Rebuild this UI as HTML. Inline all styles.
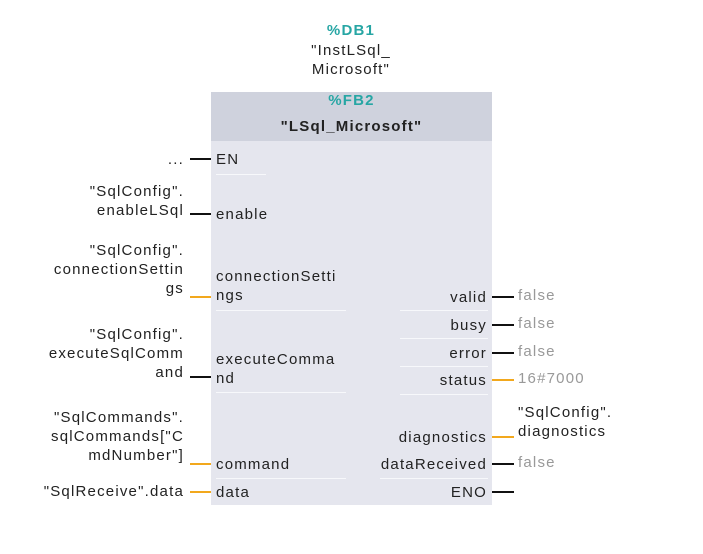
<!DOCTYPE html>
<html><head><meta charset="utf-8"><style>
body{margin:0;width:703px;height:554px;background:#fff;position:relative;overflow:hidden;font-family:"Liberation Sans","DejaVu Sans",sans-serif;font-size:15px;letter-spacing:1.2px;color:#222}
.a{position:absolute;line-height:19px;white-space:nowrap}
.r{text-align:right}
.ln{position:absolute;height:2px;background:#111}
.o{background:#f2a81d}
.g{color:#999}
.t{color:#27a6a4;font-weight:bold}
.sep{position:absolute;height:1px;background:#f7f8fb}
</style></head><body>
<div class="a t" style="left:290px;top:21px;width:122px;text-align:center">%DB1</div>
<div class="a" style="left:280px;top:41px;width:142px;text-align:center">"InstLSql_<br>Microsoft"</div>
<div style="position:absolute;left:211px;top:92px;width:281px;height:413px;background:#e5e6ee"></div>
<div style="position:absolute;left:211px;top:92px;width:281px;height:49px;background:#cfd2dd"></div>
<div class="a t" style="left:211px;top:91px;width:281px;text-align:center">%FB2</div>
<div class="a" style="left:211px;top:117px;width:281px;text-align:center;font-weight:bold">"LSql_Microsoft"</div>

<div class="sep" style="left:216px;width:50px;top:174px"></div>
<div class="sep" style="left:216px;width:130px;top:310px"></div>
<div class="sep" style="left:216px;width:130px;top:392px"></div>
<div class="sep" style="left:216px;width:130px;top:478px"></div>
<div class="sep" style="left:400px;width:88px;top:310px"></div>
<div class="sep" style="left:400px;width:88px;top:338px"></div>
<div class="sep" style="left:400px;width:88px;top:366px"></div>
<div class="sep" style="left:400px;width:88px;top:394px"></div>
<div class="sep" style="left:380px;width:108px;top:478px"></div>

<!-- left pins -->
<div class="a r" style="right:519px;top:150px">...</div>
<div class="ln" style="left:190px;width:21px;top:158px"></div>
<div class="a" style="left:216px;top:150px">EN</div>

<div class="a r" style="right:519px;top:182px">"SqlConfig".<br>enableLSql</div>
<div class="ln" style="left:190px;width:21px;top:213px"></div>
<div class="a" style="left:216px;top:205px">enable</div>

<div class="a r" style="right:519px;top:241px">"SqlConfig".<br>connectionSettin<br>gs</div>
<div class="ln o" style="left:190px;width:21px;top:296px"></div>
<div class="a" style="left:216px;top:267px">connectionSetti<br>ngs</div>

<div class="a r" style="right:519px;top:325px">"SqlConfig".<br>executeSqlComm<br>and</div>
<div class="ln" style="left:190px;width:21px;top:376px"></div>
<div class="a" style="left:216px;top:350px">executeComma<br>nd</div>

<div class="a r" style="right:519px;top:408px">"SqlCommands".<br>sqlCommands["C<br>mdNumber"]</div>
<div class="ln o" style="left:190px;width:21px;top:463px"></div>
<div class="a" style="left:216px;top:455px">command</div>

<div class="a r" style="right:519px;top:482px">"SqlReceive".data</div>
<div class="ln o" style="left:190px;width:21px;top:491px"></div>
<div class="a" style="left:216px;top:483px">data</div>

<!-- right pins -->
<div class="a r" style="right:216px;top:288px">valid</div>
<div class="ln" style="left:492px;width:22px;top:296px"></div>
<div class="a g" style="left:518px;top:286px">false</div>

<div class="a r" style="right:216px;top:316px">busy</div>
<div class="ln" style="left:492px;width:22px;top:324px"></div>
<div class="a g" style="left:518px;top:314px">false</div>

<div class="a r" style="right:216px;top:344px">error</div>
<div class="ln" style="left:492px;width:22px;top:352px"></div>
<div class="a g" style="left:518px;top:342px">false</div>

<div class="a r" style="right:216px;top:371px">status</div>
<div class="ln o" style="left:492px;width:22px;top:379px"></div>
<div class="a g" style="left:518px;top:369px">16#7000</div>

<div class="a r" style="right:216px;top:428px">diagnostics</div>
<div class="ln o" style="left:492px;width:22px;top:436px"></div>
<div class="a" style="left:518px;top:403px">"SqlConfig".<br>diagnostics</div>

<div class="a r" style="right:216px;top:455px">dataReceived</div>
<div class="ln" style="left:492px;width:22px;top:463px"></div>
<div class="a g" style="left:518px;top:453px">false</div>

<div class="a r" style="right:216px;top:483px">ENO</div>
<div class="ln" style="left:492px;width:22px;top:491px"></div>
</body></html>
